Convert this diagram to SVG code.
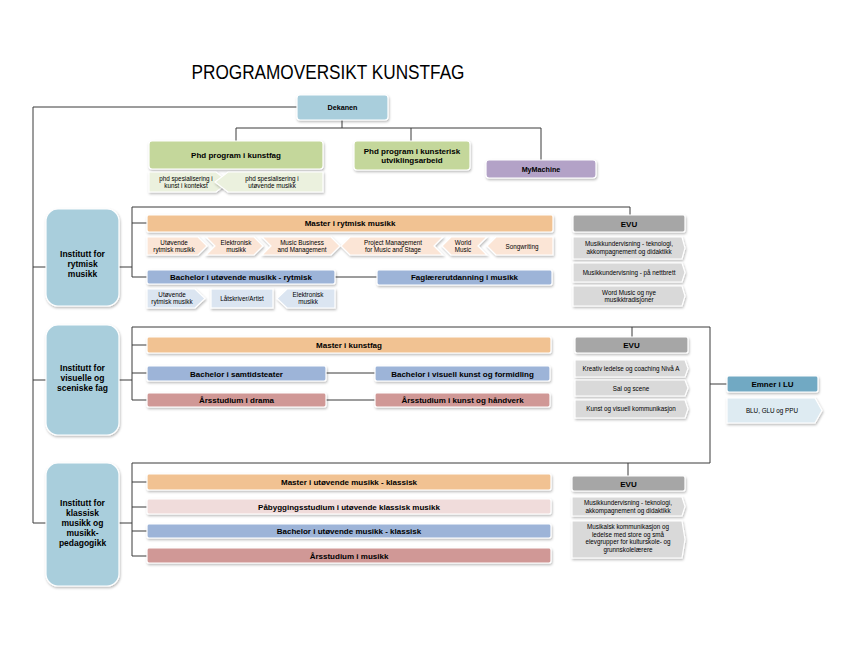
<svg xmlns="http://www.w3.org/2000/svg" width="860" height="665" viewBox="0 0 860 665">
<defs>
<filter id="sh" x="-10%" y="-20%" width="120%" height="150%">
<feDropShadow dx="0.8" dy="1.5" stdDeviation="1" flood-color="#000" flood-opacity="0.28"/>
</filter>
<style>
text{font-family:"Liberation Sans",Arial,sans-serif;fill:#000;text-anchor:middle}
.b{font-weight:bold;font-size:8px}
.s{font-size:6.3px}
.inst{font-weight:bold;font-size:8.5px}
.box{stroke:#fff;stroke-width:1.2;filter:url(#sh)}
.con{fill:none;stroke:#3a3a3a;stroke-width:1}
.blue{fill:#a9cedc}
.green{fill:#c4d79b}
.lgreen{fill:#ebf1de}
.purple{fill:#b3a2c7}
.orange{fill:#f1c292}
.peach{fill:#fbe5d6}
.bach{fill:#9db4d8}
.lbach{fill:#dbe5f1}
.rose{fill:#d09896}
.pink{fill:#f0dcdb}
.evu{fill:#a6a6a6}
.gray{fill:#d9d9d9}
.teal{fill:#71a9c3}
.lteal{fill:#deebf2}
</style>
</defs>
<rect width="860" height="665" fill="#fff"/>
<text x="328" y="79" font-size="20" textLength="273" lengthAdjust="spacingAndGlyphs">PROGRAMOVERSIKT KUNSTFAG</text>

<g id="connectors">
<path class="con" d="M297,107 H33 V523 H46 M33,267 H46 M33,380 H46"/>
<path class="con" d="M342,120 V128 M236,128 H541 M236,128 V141 M411,128 V141 M541,128 V160"/>
<path class="con" d="M119,267 H132 M132,207 V277 M132,207 H630 V215 M132,223 H147 M132,277 H147 M335,277 H377"/>
<path class="con" d="M119,380 H132 M132,327 V400 M132,327 H710 V463 M632,327 V337 M132,345 H147 M132,373 H147 M132,400 H147 M326,373 H375 M326,400 H375 M710,384 H727"/>
<path class="con" d="M119,523 H132 M132,463 V556 M132,463 H710 M628,463 V476 M132,482 H147 M132,507 H147 M132,531 H147 M132,556 H147"/>
</g>

<g id="dekanen"><rect class="box blue" x="297" y="95" width="91" height="25" rx="3"/><text class="b" style="font-size:7.2px" x="342.5" y="110">Dekanen</text></g>

<g id="phd-kunstfag"><rect class="box green" x="149" y="141" width="174" height="28" rx="3"/><text class="b" x="236" y="158">Phd program i kunstfag</text></g>
<g id="phd-kontekst"><polygon class="box lgreen" points="149,172 216,172 229,182 216,192 149,192"/><text class="s" x="186" y="180.5">phd spesialisering i</text><text class="s" x="186" y="188">kunst i kontekst</text></g>
<g id="phd-utovende"><polygon class="box lgreen" points="228,172 323,172 323,192 228,192 215,182"/><text class="s" x="272" y="180.5">phd spesialisering i</text><text class="s" x="272" y="188">utøvende musikk</text></g>
<g id="phd-kunsterisk"><rect class="box green" x="354" y="141" width="116" height="29" rx="3"/><text class="b" x="412" y="153.5">Phd program i kunsterisk</text><text class="b" x="412" y="163">utviklingsarbeid</text></g>
<g id="mymachine"><rect class="box purple" x="486" y="160" width="110" height="18" rx="3"/><text class="b" style="font-size:7.2px" x="541" y="171.5">MyMachine</text></g>

<g id="inst-rytmisk"><rect class="box blue" x="46" y="209" width="73" height="97" rx="12"/><text class="inst" x="82.5" y="257">Institutt for</text><text class="inst" x="82.5" y="267">rytmisk</text><text class="inst" x="82.5" y="277">musikk</text></g>

<g id="master-rytmisk"><rect class="box orange" x="147" y="215" width="406" height="17" rx="2"/><text class="b" x="350" y="226">Master i rytmisk musikk</text></g>
<g id="mr-utovende"><polygon class="box peach" points="147,237 198,237 207,246 198,255 147,255"/><text class="s" x="174" y="244.5">Utøvende</text><text class="s" x="174" y="252">rytmisk musikk</text></g>
<g id="mr-elektronisk"><polygon class="box peach" points="206,237 254,237 263,246 254,255 206,255 215,246"/><text class="s" x="236" y="244.5">Elektronisk</text><text class="s" x="236" y="252">musikk</text></g>
<g id="mr-business"><polygon class="box peach" points="262,237 331,237 340,246 331,255 262,255 271,246"/><text class="s" x="302" y="244.5">Music Business</text><text class="s" x="302" y="252">and Management</text></g>
<g id="mr-project"><polygon class="box peach" points="350,237 443,237 434,246 443,255 350,255 341,246"/><text class="s" x="393" y="244.5">Project Management</text><text class="s" x="393" y="252">for Music and Stage</text></g>
<g id="mr-world"><polygon class="box peach" points="451,237 487,237 478,246 487,255 451,255 442,246"/><text class="s" x="463" y="244.5">World</text><text class="s" x="463" y="252">Music</text></g>
<g id="mr-songwriting"><polygon class="box peach" points="496,237 553,237 553,255 496,255 487,246"/><text class="s" x="522" y="248.5">Songwriting</text></g>

<g id="bachelor-rytmisk"><rect class="box bach" x="147" y="270" width="188" height="14" rx="2"/><text class="b" x="241" y="279.5">Bachelor i utøvende musikk - rytmisk</text></g>
<g id="br-utovende"><polygon class="box lbach" points="147,289 195,289 205,298.5 195,308 147,308"/><text class="s" x="172" y="296.5">Utøvende</text><text class="s" x="172" y="304">rytmisk musikk</text></g>
<g id="br-latskriver"><rect class="box lbach" x="211" y="289" width="62" height="19"/><text class="s" x="242" y="300.5">Låtskriver/Artist</text></g>
<g id="br-elektronisk"><polygon class="box lbach" points="287,289 335,289 335,308 287,308 277,298.5"/><text class="s" x="308" y="296.5">Elektronisk</text><text class="s" x="308" y="304">musikk</text></g>
<g id="faglaerer"><rect class="box bach" x="377" y="270" width="175" height="15" rx="2"/><text class="b" x="464.5" y="280">Faglærerutdanning i musikk</text></g>

<g id="evu-rytmisk"><rect class="box evu" x="573" y="215" width="112" height="17" rx="2"/><text class="b" x="629" y="226.5">EVU</text></g>
<g id="evu-r1"><polygon class="box gray" points="573,237 682,237 685,248 682,259 573,259"/><text class="s" x="629" y="246">Musikkundervisning - teknologi,</text><text class="s" x="629" y="254">akkompagnement og didaktikk</text></g>
<g id="evu-r2"><polygon class="box gray" points="573,263 682,263 685,272.5 682,282 573,282"/><text class="s" x="629" y="274.5">Musikkundervisning - på nettbrett</text></g>
<g id="evu-r3"><polygon class="box gray" points="573,286 682,286 685,296 682,306 573,306"/><text class="s" x="629" y="294.5">Word Music og nye</text><text class="s" x="629" y="302">musikktradisjoner</text></g>

<g id="inst-visuell"><rect class="box blue" x="46" y="325" width="73" height="110" rx="12"/><text class="inst" x="82.5" y="371">Institutt for</text><text class="inst" x="82.5" y="381">visuelle og</text><text class="inst" x="82.5" y="391">sceniske fag</text></g>

<g id="master-kunstfag"><rect class="box orange" x="147" y="337" width="404" height="16" rx="2"/><text class="b" x="349" y="348">Master i kunstfag</text></g>
<g id="bachelor-samtidsteater"><rect class="box bach" x="147" y="366" width="179" height="15" rx="2"/><text class="b" x="236.5" y="376.5">Bachelor i samtidsteater</text></g>
<g id="bachelor-visuell"><rect class="box bach" x="375" y="366" width="175" height="15" rx="2"/><text class="b" x="462.5" y="376.5">Bachelor i visuell kunst og formidling</text></g>
<g id="arsstudium-drama"><rect class="box rose" x="147" y="393" width="179" height="14" rx="2"/><text class="b" x="236.5" y="403">Årsstudium i drama</text></g>
<g id="arsstudium-kunst"><rect class="box rose" x="375" y="393" width="175" height="14" rx="2"/><text class="b" x="462.5" y="403">Årsstudium i kunst og håndverk</text></g>

<g id="evu-visuell"><rect class="box evu" x="575" y="337" width="113" height="16" rx="2"/><text class="b" x="631.5" y="348">EVU</text></g>
<g id="evu-v1"><polygon class="box gray" points="575,360 685,360 688,368.5 685,377 575,377"/><text class="s" x="631" y="370.5">Kreativ ledelse og coaching Nivå A</text></g>
<g id="evu-v2"><polygon class="box gray" points="575,380 685,380 688,388 685,396 575,396"/><text class="s" x="631" y="390.5">Sal og scene</text></g>
<g id="evu-v3"><polygon class="box gray" points="575,400 685,400 688,409 685,418 575,418"/><text class="s" x="631" y="411">Kunst og visuell kommunikasjon</text></g>

<g id="emner-lu"><rect class="box teal" x="727" y="376" width="91" height="16" rx="2"/><text class="b" x="772.5" y="387">Emner i LU</text></g>
<g id="blu-glu-ppu"><polygon class="box lteal" points="727,398 815,398 822,410.5 815,423 727,423"/><text class="s" x="772" y="412.5">BLU, GLU og PPU</text></g>

<g id="inst-klassisk"><rect class="box blue" x="46" y="463" width="73" height="123" rx="12"/><text class="inst" x="82.5" y="506">Institutt for</text><text class="inst" x="82.5" y="516">klassisk</text><text class="inst" x="82.5" y="526">musikk og</text><text class="inst" x="82.5" y="536">musikk-</text><text class="inst" x="82.5" y="546">pedagogikk</text></g>

<g id="master-klassisk"><rect class="box orange" x="147" y="474" width="404" height="16" rx="2"/><text class="b" x="349" y="485">Master i utøvende musikk - klassisk</text></g>
<g id="pabygging"><rect class="box pink" x="147" y="499" width="404" height="15" rx="2"/><text class="b" x="349" y="509.5">Påbyggingsstudium  i utøvende klassisk musikk</text></g>
<g id="bachelor-klassisk"><rect class="box bach" x="147" y="524" width="404" height="14" rx="2"/><text class="b" x="349" y="534">Bachelor i utøvende musikk - klassisk</text></g>
<g id="arsstudium-musikk"><rect class="box rose" x="147" y="548" width="404" height="15" rx="2"/><text class="b" x="349" y="558.5">Årsstudium i musikk</text></g>

<g id="evu-klassisk"><rect class="box evu" x="572" y="476" width="113" height="15" rx="2"/><text class="b" x="628.5" y="486.5">EVU</text></g>
<g id="evu-k1"><polygon class="box gray" points="572,497 682,497 685,506.5 682,516 572,516"/><text class="s" x="628" y="505">Musikkundervisning - teknologi,</text><text class="s" x="628" y="512.5">akkompagnement og didaktikk</text></g>
<g id="evu-k2"><polygon class="box gray" points="572,521 682,521 685,539.5 682,558 572,558"/><text class="s" x="628" y="529">Musikalsk kommunikasjon og</text><text class="s" x="628" y="536.5">ledelse med store og små</text><text class="s" x="628" y="544">elevgrupper for kulturskole- og</text><text class="s" x="628" y="551.5">grunnskolelærere</text></g>
</svg>
